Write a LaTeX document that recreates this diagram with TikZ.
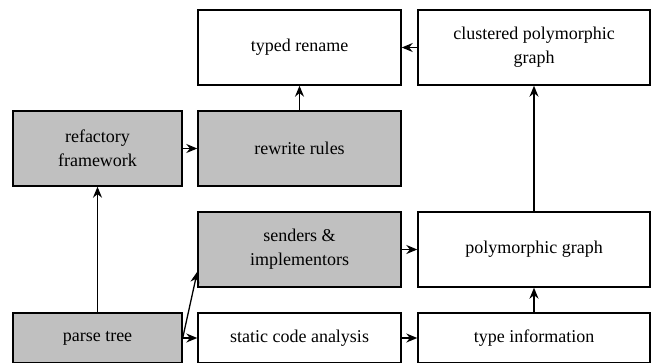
\documentclass[tikz,border=0pt]{standalone}
\usepackage{fontspec}
\setmainfont{Liberation Serif}
\usetikzlibrary{arrows.meta,calc}
\definecolor{boxgray}{RGB}{192,192,192}
\begin{document}
\begin{tikzpicture}[x=1pt,y=-1pt,
  box/.style={draw=black,line width=1.4pt,rectangle,inner sep=0pt,
    align=center,font=\fontsize{18}{24}\selectfont},
  tall/.style={minimum height=75pt},
  short/.style={minimum height=50pt},
  colA/.style={minimum width=169pt},
  colB/.style={minimum width=203pt},
  colC/.style={minimum width=232pt},
  shaded/.style={fill=boxgray},
  plain/.style={fill=white},
  link/.style={draw=black,line width=1.3pt,-{Stealth[length=11pt,width=9pt]}}]
  \useasboundingbox (0,0) rectangle (652,362);

  % top row
  \node[box,plain,tall,colB] (typed) at (299.5,47.5) {typed rename};
  \node[box,plain,tall,colC] (clus) at (534,47.5) {clustered polymorphic\\graph};

  % second row
  \node[box,shaded,tall,colA] (refac) at (97.5,148.5) {refactory\\framework};
  \node[box,shaded,tall,colB] (rewrite) at (299.5,148.5) {rewrite rules};

  % third row
  \node[box,shaded,tall,colB] (senders) at (299.5,249.5) {senders \&\\implementors};
  \node[box,plain,tall,colC] (poly) at (534,249.5) {polymorphic graph};

  % bottom row
  \node[box,shaded,short,colA] (ptree) at (97.5,338) {parse tree};
  \node[box,plain,short,colB] (static) at (299.5,338) {static code analysis};
  \node[box,plain,short,colC] (tinfo) at (534,338) {type information};

  % connectors
  \coordinate (sendin) at ($(senders.south west)!0.21!(senders.north west)$);
  \draw[link] (clus.west) -- (typed.east);
  \draw[link] (rewrite.north) -- (typed.south);
  \draw[link] (poly.north) -- (clus.south);
  \draw[link] (refac.east) -- (rewrite.west);
  \draw[link] (ptree.north) -- (refac.south);
  \draw[link] (ptree.east) -- (static.west);
  \draw[link] (ptree.east) -- (sendin);
  \draw[link] (static.east) -- (tinfo.west);
  \draw[link] (tinfo.north) -- (poly.south);
  \draw[link] (senders.east) -- (poly.west);
\end{tikzpicture}
\end{document}
